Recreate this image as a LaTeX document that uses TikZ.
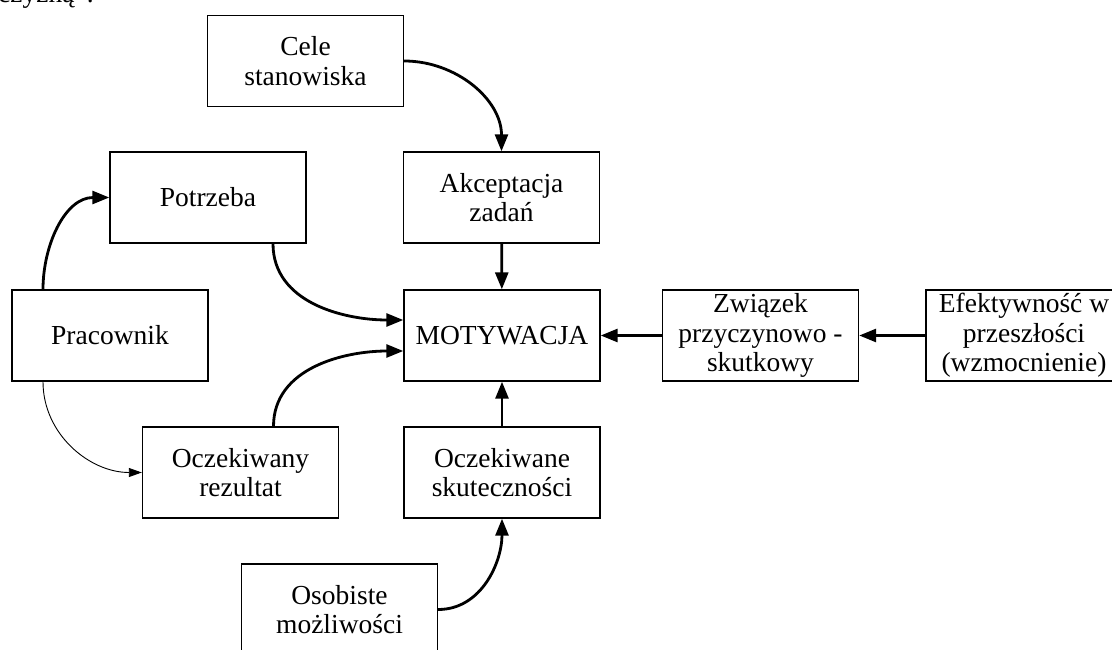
\documentclass[tikz,border=0pt]{standalone}
\usepackage{fontspec}
\setmainfont{Liberation Serif}
\usetikzlibrary{arrows.meta}
\begin{document}
\begin{tikzpicture}[x=1pt,y=-1pt,
  box/.style={draw,line width=1.4pt,minimum width=196pt,minimum height=91pt,inner sep=0pt,align=center,
    font=\fontsize{27.5}{29.5}\selectfont},
  arr/.style={line width=2.8pt,-{Triangle[length=17pt,width=13pt]}},
  thin/.style={line width=0.9pt,-{Triangle[length=13pt,width=9pt]}}]
\useasboundingbox (0,0) rectangle (1112,650);
\node[anchor=base west,font=\fontsize{27.5}{29.5}\selectfont,inner sep=0pt] (top) at (-2,3) {czyzną”.};
\node[box] (cele) at (305.5,61) {Cele\\stanowiska};
\node[box] (akc) at (501.5,197.5) {Akceptacja\\zadań};
\node[box] (potr) at (208,197.5) {Potrzeba};
\node[box] (prac) at (110,335.5) {Pracownik};
\node[box] (mot) at (502,335.5) {MOTYWACJA};
\node[box] (orez) at (240.5,472.5) {Oczekiwany\\rezultat};
\node[box] (osk) at (502,472.5) {Oczekiwane\\skuteczności};
\node[box] (osob) at (339.5,609.5) {Osobiste\\możliwości};
\node[box] (zw) at (760.5,335.5) {Związek\\przyczynowo -\\skutkowy};
\node[box] (ef) at (1024,335.5) {Efektywność w\\przeszłości\hspace*{34pt}\\(wzmocnienie)};
\draw[arr] (cele.east) to[out=0,in=90] (akc.north);
\draw[arr] (akc) -- (mot);
\draw[arr] ([xshift=65]potr.south) to[out=-90,in=180] ([yshift=15.5]mot.west);
\draw[arr] ([xshift=-67]prac.north) to[out=90,in=180] (potr.west);
\draw[thin] ([xshift=-67]prac.south) to[out=-90,in=180] (orez.west);
\draw[arr] ([xshift=33]orez.north) to[out=90,in=180] ([yshift=-15.5]mot.west);
\draw[arr] (osk) -- (mot);
\draw[arr] (osob.east) to[out=0,in=-90] (osk.south);
\draw[arr] (zw) -- (mot);
\draw[arr] (ef) -- (zw);
\end{tikzpicture}
\end{document}
